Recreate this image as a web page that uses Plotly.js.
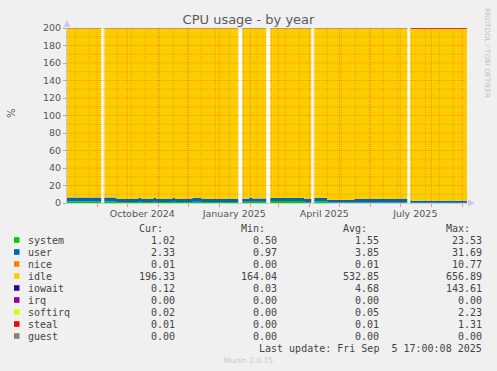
<!DOCTYPE html>
<html>
<head>
<meta charset="utf-8">
<script src="https://cdn.plot.ly/plotly-3.0.1.min.js"></script>
<style>html,body{margin:0;padding:0;background:#F0F0F0;}#chart{width:497px;height:371px;}</style>
</head>
<body>
<div id="chart"></div>
<script>
// ---- data (0 rows = unknown/gap) ----
const dates = [
  "2024-08-01 17:00", "2024-09-05", "2024-09-08", "2024-09-20", "2024-10-12",
  "2024-10-15", "2024-10-27", "2024-10-30", "2024-11-15", "2024-11-18",
  "2024-12-05", "2024-12-14", "2025-01-20", "2025-01-24", "2025-01-31",
  "2025-02-03", "2025-02-17", "2025-02-21", "2025-03-27", "2025-04-03",
  "2025-04-06", "2025-04-19", "2025-05-16", "2025-07-08", "2025-07-11",
  "2025-09-05 17:00"
];
const system  = [1.6,0,1.6,1.2,1.3,1.2,1.3,1.2,1.3,1.2,1.3,1.2,0,1.3,1.4,1.3,0,2.2,1.0,0,2.0,0.6,0.6,0,0.4,0.4];
const user    = [4.7,0,4.7,3.3,4.6,3.3,4.4,3.4,4.5,3.3,4.7,3.4,0,3.7,4.9,3.8,0,3.6,3.5,0,3.6,2.9,4.0,0,2.2,2.2];
const nice    = [0.01,0,0.01,0.01,0.01,0.01,0.01,0.01,0.01,0.01,0.01,0.01,0,0.01,0.01,0.01,0,0.01,0.01,0,0.01,0.01,0.01,0,0.01,0.01];
const idle    = [193.49,0,193.49,195.29,193.89,195.29,194.09,195.19,193.99,195.29,193.79,195.19,0,194.79,193.49,194.69,0,193.99,195.29,0,194.19,196.29,195.19,0,196.29,196.29];
const iowait  = [0.15,0,0.15,0.15,0.15,0.15,0.15,0.15,0.15,0.15,0.15,0.15,0,0.15,0.15,0.15,0,0.15,0.15,0,0.15,0.15,0.15,0,0.15,0.15];
const irq     = [0,0,0,0,0,0,0,0,0,0,0,0,0,0,0,0,0,0,0,0,0,0,0,0,0,0];
const softirq = [0.05,0,0.05,0.05,0.05,0.05,0.05,0.05,0.05,0.05,0.05,0.05,0,0.05,0.05,0.05,0,0.05,0.05,0,0.05,0.05,0.05,0,0.05,0.05];
const steal   = [0,0,0,0,0,0,0,0,0,0,0,0,0,0,0,0,0,0,0,0,0,0,0,0,0.9,0.9];
const guest   = [0,0,0,0,0,0,0,0,0,0,0,0,0,0,0,0,0,0,0,0,0,0,0,0,0,0];

const seriesNames = ["system","user","nice","idle","iowait","irq","softirq","steal","guest"];
const seriesData = [system,user,nice,idle,iowait,irq,softirq,steal,guest];
const seriesColors = ["#00CC00","#0066B3","#FF8000","#FFCC00","#330099","#990099","#CCFF00","#FF0000","#808080"];

const curVals = ["1.02","2.33","0.01","196.33","0.12","0.00","0.02","0.01","0.00"];
const minVals = ["0.50","0.97","0.00","164.04","0.03","0.00","0.00","0.00","0.00"];
const avgVals = ["1.55","3.85","0.01","532.85","4.68","0.00","0.05","0.01","0.00"];
const maxVals = ["23.53","31.69","10.77","656.89","143.61","0.00","2.23","1.31","0.00"];

const xTickVals = ["2024-10-16","2025-01-16","2025-04-16","2025-07-16"];
const xTickText = ["October 2024","January 2025","April 2025","July 2025"];
const monthStarts = ["2024-09-01","2024-10-01","2024-11-01","2024-12-01","2025-01-01","2025-02-01","2025-03-01","2025-04-01","2025-05-01","2025-06-01","2025-07-01","2025-08-01","2025-09-01"];
const xRange = ["2024-08-01 17:00","2025-09-05 17:00"];
const yTickVals = [0,20,40,60,80,100,120,140,160,180,200];

// ---- geometry helpers (pixel -> paper) ----
const W=497,H=371,L=67,R=467,T=28,B=203;
const px = x => (x-L)/(R-L);
const py = y => (B-y)/(B-T);

const traces = seriesNames.map((n,i)=>({
  type:"scatter", mode:"none", name:n, x:dates, y:seriesData[i],
  stackgroup:"cpu", line:{shape:"hv",width:0}, fill: i===0?"tozeroy":"tonexty",
  fillcolor:seriesColors[i], hoverinfo:"skip"
}));

const shapes = [];
const redGrid = "rgba(255,0,0,0.28)", greyGrid = "rgba(100,100,100,0.28)";
for (let v=10; v<=200; v+=10) {
  shapes.push({type:"line",layer:"above",xref:"paper",yref:"y",x0:0,x1:1,y0:v,y1:v,
    line:{color: v%20===0?redGrid:greyGrid,width:1,dash:"1px,1px"}});
}
monthStarts.forEach(d=>{
  shapes.push({type:"line",layer:"above",xref:"x",yref:"paper",x0:d,x1:d,y0:0,y1:1,
    line:{color:redGrid,width:1,dash:"1px,1px"}});
});
// biweekly minor grid
{
  let t = new Date("2024-08-10T00:00:00Z").getTime();
  const end = new Date("2025-09-05T17:00:00Z").getTime();
  while (t < end) {
    const d = new Date(t).toISOString().slice(0,10);
    shapes.push({type:"line",layer:"above",xref:"x",yref:"paper",x0:d,x1:d,y0:0,y1:1,
      line:{color:greyGrid,width:1,dash:"1px,1px"}});
    t += 14*86400000;
  }
}
// axis arrows
shapes.push({type:"path",layer:"above",xref:"paper",yref:"paper",
  path:`M ${px(63.5)} ${py(27)} L ${px(70.5)} ${py(27)} L ${px(67)} ${py(20)} Z`,
  fillcolor:"#C8C8F0",line:{width:0}});
shapes.push({type:"path",layer:"above",xref:"paper",yref:"paper",
  path:`M ${px(468)} ${py(199.5)} L ${px(468)} ${py(206.5)} L ${px(475)} ${py(203)} Z`,
  fillcolor:"#C8C8F0",line:{width:0}});

const mono = {family:"DejaVu Sans Mono", size:10, color:"#444"};
const ann = [];
const rowY = i => 240 + 12*i;
seriesNames.forEach((n,i)=>{
  const y = rowY(i);
  shapes.push({type:"rect",xref:"paper",yref:"paper",x0:px(14),x1:px(19.5),y0:py(y+2.8),y1:py(y-2.8),
    fillcolor:seriesColors[i],line:{width:0}});
  ann.push({text:n,x:px(25.5),y:py(y),xref:"paper",yref:"paper",xanchor:"left",yanchor:"middle",showarrow:false,font:mono});
  [[curVals,177],[minVals,279],[avgVals,381],[maxVals,484]].forEach(([arr,xr])=>{
    ann.push({text:arr[i],x:px(xr),y:py(y),xref:"paper",yref:"paper",xanchor:"right",yanchor:"middle",showarrow:false,font:mono});
  });
});
[["Cur:",165],["Min:",267],["Avg:",369],["Max:",472]].forEach(([t,xr])=>{
  ann.push({text:t,x:px(xr),y:py(228),xref:"paper",yref:"paper",xanchor:"right",yanchor:"middle",showarrow:false,font:mono});
});
ann.push({text:"Last update: Fri Sep  5 17:00:08 2025",x:px(484),y:py(348),xref:"paper",yref:"paper",xanchor:"right",yanchor:"middle",showarrow:false,font:mono});
ann.push({text:"Munin 2.0.75",x:px(248),y:py(360),xref:"paper",yref:"paper",xanchor:"center",yanchor:"middle",showarrow:false,
  font:{family:"DejaVu Sans",size:7.5,color:"#C8C8C8"}});
ann.push({text:"RRDTOOL / TOBI OETIKER",x:px(487),y:py(53),xref:"paper",yref:"paper",xanchor:"center",yanchor:"middle",showarrow:false,textangle:90,
  font:{family:"DejaVu Sans",size:7,color:"#C0C0C0"}});
ann.push({text:"%",x:px(11),y:py(113),xref:"paper",yref:"paper",xanchor:"center",yanchor:"middle",showarrow:false,textangle:-90,
  font:{family:"DejaVu Sans",size:10,color:"#555"}});

const layout = {
  width:W, height:H,
  margin:{l:L, r:W-R, t:T, b:H-B, pad:0},
  paper_bgcolor:"#F0F0F0", plot_bgcolor:"#FFFFFF",
  showlegend:false, hovermode:false,
  title:{text:"CPU usage - by year", x:0.5, xref:"container", xanchor:"center", y:1-19/H, yref:"container", yanchor:"middle",
    font:{family:"DejaVu Sans", size:13, color:"#5A5A5A"}},
  xaxis:{type:"date", range:xRange, fixedrange:true,
    tickmode:"array", tickvals:xTickVals, ticktext:xTickText, ticks:"", showgrid:false, zeroline:false,
    tickfont:{family:"DejaVu Sans", size:9.5, color:"#555"}, ticklabelstandoff:2,
    showline:true, linecolor:"#C8C8E8", linewidth:1,
    minor:{tickmode:"array", tickvals:monthStarts, ticks:"outside", ticklen:3, tickcolor:"rgba(255,0,0,0.4)", showgrid:false}},
  yaxis:{range:[0,200], fixedrange:true, tickmode:"array", tickvals:yTickVals, ticktext:yTickVals.map(String),
    ticks:"outside", ticklen:3, tickcolor:"#AAAAAA", showgrid:false, zeroline:false,
    tickfont:{family:"DejaVu Sans", size:9.5, color:"#555"},
    showline:true, linecolor:"#C8C8E8", linewidth:1},
  shapes:shapes, annotations:ann
};

Plotly.newPlot("chart", traces, layout, {staticPlot:true, displayModeBar:false});
</script>
</body>
</html>
